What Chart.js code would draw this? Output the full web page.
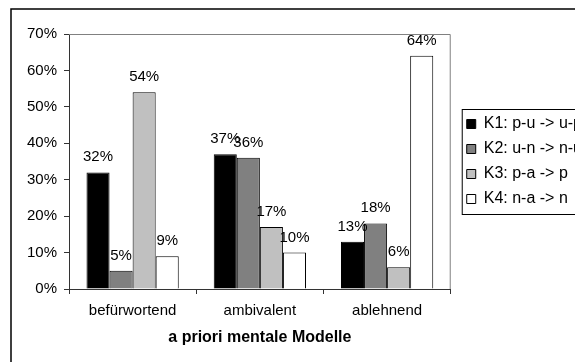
<!DOCTYPE html>
<html>
<head>
<meta charset="utf-8">
<script src="https://cdn.jsdelivr.net/npm/chart.js@4/dist/chart.umd.min.js"></script>
<style>
  html, body { margin: 0; padding: 0; background: #fff; overflow: hidden; }
  #wrap { width: 575px; height: 362px; overflow: hidden; }
</style>
</head>
<body>
<div id="wrap"><canvas id="chart" width="620" height="362"></canvas></div>
<script>
'use strict';

// categories on the x axis
var categories = ['befürwortend', 'ambivalent', 'ablehnend'];
// legend names of the four groups
var seriesNames = ['K1: p-u -> u-p', 'K2: u-n -> n-u', 'K3: p-a -> p', 'K4: n-a -> n'];
// percent values per group (one entry per category)
var k1 = [32, 37, 13];
var k2 = [5, 36, 18];
var k3 = [54, 17, 6];
var k4 = [9, 10, 64];
var yTicks = [0, 10, 20, 30, 40, 50, 60, 70];

var fills = ['#000000', '#808080', '#c0c0c0', '#ffffff'];
var FONT = 'Liberation Sans, Arial, sans-serif';

Chart.defaults.font.family = FONT;
Chart.defaults.color = '#000';

// outer frame of the chart object
var framePlugin = {
  id: 'frame',
  afterDraw: function(chart) {
    var ctx = chart.ctx;
    ctx.save();
    ctx.strokeStyle = '#000';
    ctx.lineWidth = 1.5;
    ctx.beginPath();
    ctx.moveTo(11, chart.height);
    ctx.lineTo(11, 9);
    ctx.lineTo(chart.width, 9);
    ctx.stroke();
    ctx.restore();
  }
};

// grey border on top and right of the plot area
var plotBorder = {
  id: 'plotBorder',
  beforeDatasetsDraw: function(chart) {
    var a = chart.chartArea, ctx = chart.ctx;
    ctx.save();
    ctx.strokeStyle = '#808080';
    ctx.lineWidth = 1;
    ctx.beginPath();
    ctx.moveTo(a.left, a.top + 0.5);
    ctx.lineTo(a.right - 0.5, a.top + 0.5);
    ctx.lineTo(a.right - 0.5, a.bottom);
    ctx.stroke();
    ctx.restore();
  }
};

// box around the legend entries
var legendBox = {
  id: 'legendBox',
  afterDraw: function(chart) {
    var hb = chart.legend && chart.legend.legendHitBoxes;
    if (!hb || !hb.length) return;
    var ctx = chart.ctx;
    var first = hb[0], last = hb[hb.length - 1];
    var x = first.left - 4.5;
    var y = first.top - 6.5;
    var h = (last.top + last.height + 7.5) - y;
    ctx.save();
    ctx.strokeStyle = '#000';
    ctx.lineWidth = 1;
    ctx.strokeRect(x, y, chart.width + 20 - x, h);
    ctx.restore();
  }
};

// percent labels above each bar
var valueLabels = {
  id: 'valueLabels',
  afterDatasetsDraw: function(chart) {
    var ctx = chart.ctx;
    ctx.save();
    ctx.font = '15px ' + FONT;
    ctx.fillStyle = '#000';
    ctx.textAlign = 'center';
    ctx.textBaseline = 'alphabetic';
    chart.data.datasets.forEach(function(ds, i) {
      var meta = chart.getDatasetMeta(i);
      meta.data.forEach(function(bar, j) {
        ctx.fillText(ds.data[j] + '%', bar.x, bar.y - 11);
      });
    });
    ctx.restore();
  }
};

var seriesData = [k1, k2, k3, k4];
var datasets = [];
for (var i = 0; i < seriesData.length; i++) {
  datasets.push({
    label: seriesNames[i],
    data: seriesData[i],
    backgroundColor: fills[i],
    borderColor: '#000',
    borderWidth: 1,
    categoryPercentage: 0.725,
    barPercentage: 1
  });
}

new Chart(document.getElementById('chart'), {
  type: 'bar',
  data: { labels: categories, datasets: datasets },
  options: {
    responsive: false,
    animation: false,
    layout: { padding: { top: 34, left: 0, bottom: 0, right: 28 } },
    plugins: {
      tooltip: { enabled: false },
      legend: {
        position: 'right',
        fullSize: false,
        align: 'center',
        maxWidth: 200,
        labels: {
          boxWidth: 9,
          boxHeight: 9,
          padding: 9,
          color: '#000',
          font: { size: 16 }
        }
      }
    },
    scales: {
      x: {
        grid: { drawOnChartArea: false, tickLength: 5, color: '#333' },
        border: { color: '#333', width: 1 },
        ticks: { padding: 8, font: { size: 15 }, color: '#000' },
        title: {
          display: true,
          text: 'a priori mentale Modelle',
          font: { size: 16, weight: 'bold' },
          color: '#000',
          padding: { top: 4, bottom: 14.4 }
        },
        afterFit: function(s) { s.height = 73; }
      },
      y: {
        min: 0,
        max: 70,
        grid: { drawOnChartArea: false, tickLength: 5, color: '#333' },
        border: { color: '#333', width: 1 },
        afterBuildTicks: function(s) {
          s.ticks = yTicks.map(function(v) { return { value: v }; });
        },
        ticks: {
          padding: 7,
          font: { size: 15 },
          color: '#000',
          callback: function(v) { return v + '%'; }
        },
        afterFit: function(s) { s.width = 69; }
      },
      gap: {
        type: 'linear',
        position: 'right',
        display: true,
        grid: { display: false },
        border: { display: false },
        ticks: { display: false },
        afterFit: function(s) { s.width = 7; }
      }
    }
  },
  plugins: [framePlugin, plotBorder, legendBox, valueLabels]
});
</script>
</body>
</html>
